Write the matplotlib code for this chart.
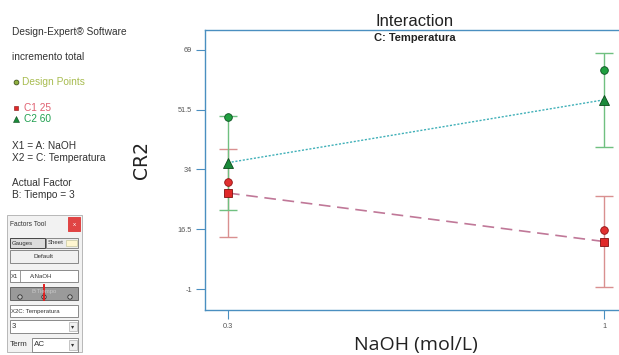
import matplotlib
matplotlib.use("Agg")
import matplotlib.pyplot as plt
from matplotlib.patches import Rectangle, Circle

plt.rcParams['font.family'] = ['Liberation Sans', 'DejaVu Sans']

# NaOH levels (mol/L)
naoh = [0.3, 1.0]
# predicted means per temperature level
c1_mean = [27.1, 12.9]
c2_mean = [36.0, 54.4]
# LSD half-widths
c1_err = [12.8, 13.2]
c2_err = [13.8, 13.8]
# design points (actual runs)
c1_design = [30.2, 16.2]
c2_design = [49.3, 63.1]

yticks = [69, 51.5, 34, 16.5, -1]
ytick_labels = ["69", "51.5", "34", "16.5", "-1"]
xticks = [0.3, 1.0]
xtick_labels = ["0.3", "1"]

W, H = 619, 355
fig = plt.figure(figsize=(W / 100, H / 100), dpi=100)

spine_c = "#4a8fc0"
red_bar = "#d99090"
green_bar = "#70c080"

# right spine sits just past the image edge, as in the reference crop
ax = fig.add_axes([205 / W, 1 - 310 / H, (623 - 205) / W, (310 - 30) / H])
ax.set_xlim(0.2572, 1.0353)
ax.set_ylim(-7.15, 74.85)

ax.errorbar(naoh, c1_mean, yerr=c1_err, fmt="none", ecolor=red_bar,
            elinewidth=1.0, capsize=6.5, capthick=1.0, zorder=2)
ax.errorbar(naoh, c2_mean, yerr=c2_err, fmt="none", ecolor=green_bar,
            elinewidth=1.0, capsize=6.5, capthick=1.0, zorder=2)

ax.plot(naoh, c1_mean, color="#c07898", lw=1.2, dashes=(7, 4), zorder=3)
ax.plot(naoh, c2_mean, color="#40b0b8", lw=1.0, ls=(0, (1.5, 1.2)), zorder=3)

ax.plot(naoh, c1_mean, ls="none", marker="s", ms=6, mfc="#e02828",
        mec="#801010", mew=0.6, zorder=4)
ax.plot(naoh, c2_mean, ls="none", marker="^", ms=6.5, mfc="#1a8a3a",
        mec="#0a4a1a", mew=0.6, zorder=4)
ax.plot(naoh, c1_design, ls="none", marker="o", ms=5.5, mfc="#e03030",
        mec="#901010", mew=0.6, zorder=4)
ax.plot(naoh, c2_design, ls="none", marker="o", ms=5.5, mfc="#20a040",
        mec="#0a5020", mew=0.6, zorder=4)

ax.set_yticks(yticks)
ax.set_yticklabels(ytick_labels)
ax.set_xticks(xticks)
ax.set_xticklabels(xtick_labels)
ax.tick_params(axis="both", direction="out", length=6.5, width=0.8,
               color=spine_c, labelsize=5.3, labelcolor="#555555", pad=3)
for s in ax.spines.values():
    s.set_color(spine_c)
    s.set_linewidth(1.0)

fig.text(415 / W, 1 - 38 / H, "C: Temperatura", ha="center", va="center",
         fontsize=8, color="#222222", fontweight="bold")
fig.text(415 / W, 1 - 21 / H, "Interaction", ha="center", va="center",
         fontsize=12, color="#222222")
fig.text(142 / W, 1 - 160 / H, "CR2", ha="center", va="center", rotation=90,
         fontsize=13.5, color="#222222", family="DejaVu Sans")
fig.text(416 / W, 1 - 345 / H, "NaOH (mol/L)", ha="center", va="center",
         fontsize=14, color="#222222", family="Open Sans")

# left info panel and factors tool, drawn in pixel coordinates
ov = fig.add_axes([0, 0, 1, 1], zorder=-1)
ov.set_xlim(0, W)
ov.set_ylim(H, 0)
ov.axis("off")

txt = "#333333"
fs = 7.3
ov.text(12, 32, "Design-Expert\u00ae Software", fontsize=fs, color=txt, va="center")
ov.text(12, 57, "incremento total", fontsize=fs, color=txt, va="center")
ov.plot([16], [82], marker="o", ms=3.5, mfc="#90b040", mec="#304010", mew=0.5)
ov.text(22, 82, "Design Points", fontsize=fs, color="#a8bc50", va="center")
ov.plot([16], [108], marker="s", ms=3.5, mfc="#e02828", mec="#801010", mew=0.4)
ov.text(24, 108, "C1 25", fontsize=fs, color="#e06070", va="center")
ov.plot([16], [119], marker="^", ms=4, mfc="#1a8a3a", mec="#0a4a1a", mew=0.4)
ov.text(24, 119, "C2 60", fontsize=fs, color="#20a050", va="center")
ov.text(12, 146, "X1 = A: NaOH", fontsize=fs, color=txt, va="center")
ov.text(12, 158, "X2 = C: Temperatura", fontsize=fs, color=txt, va="center")
ov.text(12, 183, "Actual Factor", fontsize=fs, color=txt, va="center")
ov.text(12, 195, "B: Tiempo = 3", fontsize=fs, color=txt, va="center")


def box(x0, y0, x1, y1, fc="white", ec="#8a8a8a", lw=0.7):
    ov.add_patch(Rectangle((x0, y0), x1 - x0, y1 - y0, facecolor=fc,
                           edgecolor=ec, lw=lw))


wf = 4.3
box(7, 215, 82, 352, fc="#f2f2f2", ec="#b8b8b8")
ov.text(10, 224, "Factors Tool", fontsize=4.8, color=txt, va="center")
box(68, 217, 80, 231, fc="#e04444", ec="#e04444")
ov.text(74, 224, "x", fontsize=4.5, color="white", ha="center", va="center")
box(10, 238, 45, 248, fc="#dcdcdc", ec="#444444")
ov.text(12, 243, "Gauges", fontsize=wf, color=txt, va="center")
box(46, 238, 78, 248, fc="#ececec", ec="#888888")
ov.text(48, 243, "Sheet", fontsize=wf, color=txt, va="center")
box(66, 240, 77, 246, fc="#fff6d0", ec="#c8c8a0", lw=0.5)
box(10, 250, 78, 263, fc="#f0f0f0", ec="#888888")
ov.text(44, 256.5, "Default", fontsize=wf + 0.3, color=txt, ha="center", va="center")
box(10, 270, 78, 282)
ov.plot([20, 20], [270, 282], color="#8a8a8a", lw=0.6)
ov.text(11, 276, "X1", fontsize=wf, color=txt, va="center")
ov.text(30, 276, "A:NaOH", fontsize=wf, color=txt, va="center")
box(10, 287, 78, 300, fc="#9a9a9a", ec="#666666")
ov.text(44, 291, "B:Tiempo", fontsize=wf, color="#c8c8c8", ha="center", va="center")
for cx in (20, 44, 70):
    ov.add_patch(Circle((cx, 297), 2.2, facecolor="#bdbdbd", edgecolor="#333333", lw=0.6))
ov.plot([44, 44], [285, 300], color="#e02020", lw=1.4)
box(10, 305, 78, 317)
ov.text(11, 311, "X2C: Temperatura", fontsize=wf, color=txt, va="center")
box(10, 320, 78, 333)
ov.text(12, 326.5, "3", fontsize=5.5, color=txt, va="center")
box(69, 322, 77, 331, fc="#f0f0f0", ec="#b0b0b0", lw=0.5)
ov.text(73, 326.5, "\u25be", fontsize=4.5, color=txt, ha="center", va="center")
ov.text(10, 345, "Term", fontsize=5.8, color=txt, va="center")
box(32, 338, 78, 352)
ov.text(34, 345, "AC", fontsize=5.8, color=txt, va="center")
box(69, 340, 77, 350, fc="#f0f0f0", ec="#b0b0b0", lw=0.5)
ov.text(73, 345, "\u25be", fontsize=4.5, color=txt, ha="center", va="center")

fig.savefig("out.png", dpi=100)
